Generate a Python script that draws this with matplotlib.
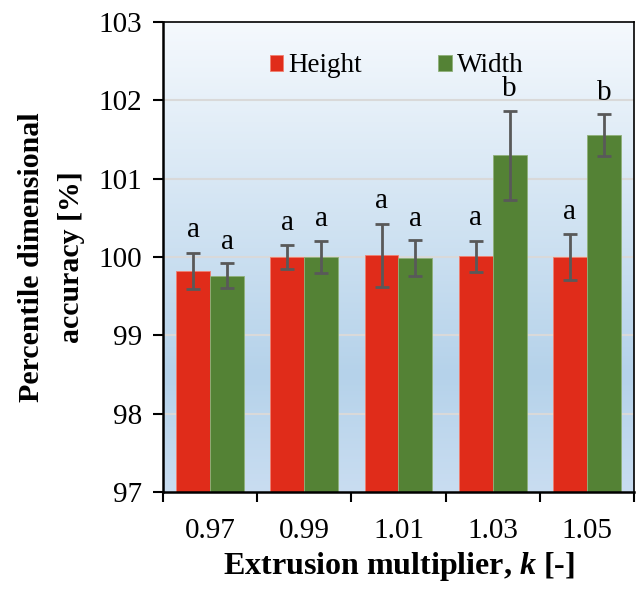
import numpy as np
import matplotlib.pyplot as plt
from matplotlib.colors import LinearSegmentedColormap

plt.rcParams['font.family'] = 'Liberation Serif'
plt.rcParams['mathtext.fontset'] = 'custom'
plt.rcParams['mathtext.it'] = 'Liberation Serif:italic:bold'

k = ['0.97', '0.99', '1.01', '1.03', '1.05']
height = [99.82, 100.00, 100.02, 100.01, 100.00]
height_err = [0.23, 0.15, 0.40, 0.20, 0.29]
width = [99.76, 100.00, 99.99, 101.30, 101.56]
width_err = [0.16, 0.21, 0.23, 0.57, 0.27]
height_grp = ['a', 'a', 'a', 'a', 'a']
width_grp = ['a', 'a', 'a', 'b', 'b']

fig = plt.figure(figsize=(6.38, 5.90), dpi=100)
ax = fig.add_axes([0.2555, 0.1661, 0.7382, 0.7966])

# background fill, light at the top and blue towards the bottom
cmap = LinearSegmentedColormap.from_list('bg', [(0, '#c9ddf1'), (0.25, '#b5d2ea'), (1, '#f5f9fd')])
grad = np.linspace(0, 1, 256).reshape(-1, 1)
ax.imshow(grad, cmap=cmap, aspect='auto', extent=(-0.5, 4.5, 97, 103), origin='lower', zorder=0)

x = np.arange(len(k))
bw = 0.36
ax.bar(x - bw / 2, [h - 97 for h in height], bw, bottom=97, color='#e02c1a', edgecolor='#f08070', linewidth=0.6,
       label='Height', zorder=2)
ax.bar(x + bw / 2, [w - 97 for w in width], bw, bottom=97, color='#548235', edgecolor='#8fb07a', linewidth=0.6,
       label='Width', zorder=2)
ax.errorbar(x - bw / 2, height, yerr=height_err, fmt='none', ecolor='#595959', elinewidth=2, capsize=5, capthick=2,
            zorder=3)
ax.errorbar(x + bw / 2, width, yerr=width_err, fmt='none', ecolor='#595959', elinewidth=2, capsize=5, capthick=2,
            zorder=3)

# significance letters above the error bars
for i in range(len(k)):
    ax.text(x[i] - bw / 2, height[i] + height_err[i] + 0.29, height_grp[i], ha='center', va='center', fontsize=21,
            zorder=4)
    ax.text(x[i] + bw / 2, width[i] + width_err[i] + 0.27, width_grp[i], ha='center', va='center', fontsize=21,
            zorder=4)

ax.set_xlim(-0.5, 4.5)
ax.set_ylim(97, 103)
ax.set_yticks(range(97, 104))
for y in range(98, 103):
    ax.axhline(y, color='#d9d9d9', linewidth=1.5, zorder=1)

ax.set_xticks(x)
ax.set_xticklabels(k)
ax.set_xticks(np.arange(-0.5, 5, 1), minor=True)
ax.tick_params(axis='x', which='major', length=0, labelsize=21, pad=19)
ax.tick_params(axis='x', which='minor', length=7, width=1.5, direction='out')
ax.tick_params(axis='y', length=7, width=1.5, direction='out', labelsize=21, pad=8)

for s in ['left', 'bottom']:
    ax.spines[s].set_linewidth(1.8)
for s in ['top', 'right']:
    ax.spines[s].set_linewidth(1.2)

ax.set_ylabel('Percentile dimensional\naccuracy [%]', fontsize=21.5, fontweight='bold', labelpad=10, linespacing=1.6)
ax.set_xlabel('Extrusion multiplier, $\\mathit{k}$ [-]', fontsize=23, fontweight='bold', labelpad=4)

ax.legend(loc='upper center', bbox_to_anchor=(0.496, 0.985), ncol=2, frameon=False, fontsize=19.5,
          handlelength=0.5, handleheight=0.5, handletextpad=0.2, columnspacing=2.8)

plt.savefig('out.png', dpi=100)
